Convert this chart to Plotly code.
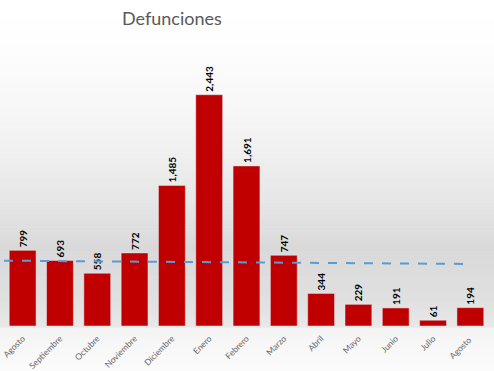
import plotly.graph_objects as go
import numpy as np

months = ["Agosto", "Septiembre", "Octubre", "Noviembre", "Diciembre", "Enero", "Febrero",
          "Marzo", "Abril", "Mayo", "Junio", "Julio", "Agosto "]
deaths = [799, 693, 558, 772, 1485, 2443, 1691, 747, 344, 229, 191, 61, 194]
trend_x = [-0.5, 12]
trend_y = [690, 655]

fig = go.Figure()

# background gradient bands (paper coordinates)
stops = [(1.16, 255), (1.0, 254), (0.8, 248), (0.62, 240), (0.44, 230), (0.27, 217), (0.09, 224),
         (0.0, 232), (-0.012, 244), (-0.16, 251)]
n = 120
ys = np.linspace(-0.16, 1.16, n + 1)
sy = [s[0] for s in stops][::-1]
sv = [s[1] for s in stops][::-1]
for i in range(n):
    mid = (ys[i] + ys[i + 1]) / 2
    g = int(round(np.interp(mid, sy, sv)))
    fig.add_shape(type="rect", xref="paper", yref="paper", x0=-0.02, x1=1.02, y0=ys[i], y1=ys[i + 1] + 0.002,
                  fillcolor=f"rgb({g},{g},{g})", line_width=0, layer="below")

fig.add_trace(go.Bar(
    x=list(range(len(months))), y=deaths, marker_color="#c00000", width=0.72,
    texttemplate="%{y:,}", textposition="outside", textangle=-90,
    textfont=dict(family="Lato, Liberation Sans", size=10, color="#000000", weight="bold"),
    cliponaxis=False, showlegend=False,
))
fig.add_trace(go.Scatter(
    x=trend_x, y=trend_y, mode="lines", line=dict(color="#5b9bd5", width=2, dash="dash"),
    showlegend=False, hoverinfo="skip",
))

fig.update_layout(
    width=494, height=371,
    margin=dict(l=4, r=5, t=42, b=45, autoexpand=False),
    paper_bgcolor="white", plot_bgcolor="rgba(0,0,0,0)",
    font=dict(family="Lato, Liberation Sans", color="#595959"),
    xaxis=dict(tickmode="array", tickvals=list(range(len(months))), ticktext=months,
               tickangle=-45, tickfont=dict(size=8.5, color="#666666"), range=[-0.5, 12.5],
               showgrid=False, zeroline=False, showline=False, ticks="", automargin=False,
               ticklabelstandoff=5),
    yaxis=dict(range=[0, 3000], visible=False, showgrid=False, automargin=False),
    annotations=[dict(text="Defunciones", xref="paper", x=(172 - 4) / 485, yref="paper",
                      y=1 + (42 - 18) / 284, showarrow=False, yanchor="middle", xanchor="center",
                      font=dict(size=18, color="#595959"))],
)

fig.write_html("out.html", config={"displayModeBar": False},
               post_script="document.body.style.margin='0';")
